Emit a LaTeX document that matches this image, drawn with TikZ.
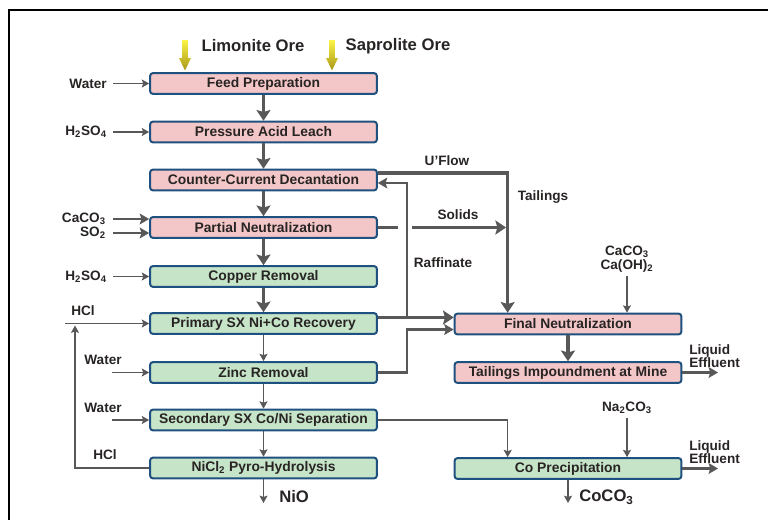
\documentclass[tikz,border=0pt]{standalone}
\usepackage{fontspec}
\setmainfont{Liberation Sans}
\usetikzlibrary{arrows.meta,calc}
\definecolor{boxpink}{RGB}{243,199,199}
\definecolor{boxgreen}{RGB}{198,228,200}
\definecolor{boxedge}{RGB}{30,80,128}
\definecolor{flowgray}{RGB}{88,88,88}
\definecolor{textdark}{RGB}{40,36,36}
\definecolor{oretop}{RGB}{252,244,70}
\definecolor{orebot}{RGB}{168,150,24}
\begin{document}
\begin{tikzpicture}[x=0.75pt,y=-0.75pt,
  stage/.style={draw=boxedge, line width=1.5pt, rounded corners=2pt,
    minimum width=170pt, minimum height=15.5pt, inner sep=0pt,
    font=\fontsize{10.4}{12}\selectfont\bfseries, text=textdark},
  leach/.style={stage, fill=boxpink},
  refine/.style={stage, fill=boxgreen},
  lbl/.style={font=\fontsize{10.2}{11}\selectfont\bfseries, text=textdark, inner sep=0pt},
  biglbl/.style={font=\fontsize{12.5}{14}\selectfont\bfseries, text=textdark, inner sep=0pt},
  heavy/.style={draw=flowgray, line width=2.6pt, -{Stealth[length=8pt,width=10.5pt,inset=1.5pt]}},
  medium/.style={draw=flowgray, line width=1.6pt, -{Stealth[length=7pt,width=8pt,inset=1.2pt]}},
  light/.style={draw=flowgray, line width=1pt, -{Stealth[length=5.5pt,width=6pt,inset=1pt]}},
  orearrow/.style={top color=oretop, bottom color=orebot, draw=none}
]
\useasboundingbox (0,0) rectangle (768,519);

% outer frame
\draw[line width=1.6pt, black] (9,525) -- (9,10) -- (775,10);

% process stages, leach circuit and refining circuit
\node[leach]  (feed) at (263.5,83.5)  {Feed Preparation};
\node[leach]  (pal)  at (263.5,132)   {Pressure Acid Leach};
\node[leach]  (ccd)  at (263.5,180)   {Counter-Current Decantation};
\node[leach]  (pn)   at (263.5,227.5) {Partial Neutralization};
\node[refine] (cu)   at (263.5,276.5) {Copper Removal};
\node[refine] (psx)  at (263.5,323.5) {Primary SX Ni+Co Recovery};
\node[refine] (zn)   at (263.5,372.5) {Zinc Removal};
\node[refine] (ssx)  at (263.5,420)   {Secondary SX Co/Ni Separation};
\node[refine] (pyro) at (263.5,468)   {NiCl\textsubscript{2} Pyro-Hydrolysis};
\node[leach]  (fn)   at (568,324)     {Final Neutralization};
\node[leach]  (tim)  at (568,372.5)   {Tailings Impoundment at Mine};
\node[refine] (cop)  at (568,468.5)   {Co Precipitation};

% ore feeds
\node[biglbl] (limo) at (253,46) {Limonite Ore};
\node[biglbl] (sapro) at (398,46) {Saprolite Ore};
\foreach \ax in {185,332}{
  \shade[orearrow] (\ax-2.8,40) -- (\ax+2.8,40) -- (\ax+2.8,58) -- (\ax+6,58)
     -- (\ax,70.5) -- (\ax-6,58) -- (\ax-2.8,58) -- cycle;
}

% main flow down the leach and refining train
\draw[heavy] (feed.south) -- (pal.north);
\draw[heavy] (pal.south) -- (ccd.north);
\draw[heavy] (ccd.south) -- (pn.north);
\draw[heavy] (pn.south) -- (cu.north);
\draw[heavy] (cu.south) -- (psx.north);
\draw[light] (psx.south) -- (zn.north);
\draw[light] (zn.south) -- (ssx.north);
\draw[light] (ssx.south) -- (pyro.north);
\draw[heavy] (fn.south) -- (tim.north);

% products
\coordinate (nioend) at (263.5,503);
\draw[light] (pyro.south) -- (nioend);
\node[biglbl, anchor=west] (nio) at (279,497) {NiO};
\coordinate (cocoend) at (568,503);
\draw[light] (cop.south) -- (cocoend);
\node[biglbl, anchor=west] (coco) at (579,497) {CoCO\textsubscript{3}};

% reagent inputs on the left
\node[lbl, anchor=east] (water1) at (107,83.5) {Water};
\draw[light] ([xshift=4.5pt]water1.east) -- (water1.east -| feed.west);
\node[lbl, anchor=east] (acid1) at (107,132) {H\textsubscript{2}SO\textsubscript{4}};
\draw[light] ([xshift=4.5pt]acid1.east) -- (acid1.east -| pal.west);
\node[lbl, anchor=east] (caco) at (106,219) {CaCO\textsubscript{3}};
\node[lbl, anchor=east] (so2) at (106,233) {SO\textsubscript{2}};
\draw[medium] ([xshift=5pt]caco.east) -- (caco.east -| pn.west);
\draw[medium] ([xshift=5pt]so2.east) -- (so2.east -| pn.west);
\node[lbl, anchor=east] (acid2) at (107,276.5) {H\textsubscript{2}SO\textsubscript{4}};
\draw[light] ([xshift=4.5pt]acid2.east) -- (acid2.east -| cu.west);

\node[lbl] (hcl1) at (83,311) {HCl};
\coordinate (hclstart) at (65,323.5);
\coordinate (hcljoin) at (75,325.5);
\draw[light] (hclstart) -- (psx.west);
\node[lbl] (hcl2) at (105,455) {HCl};
\draw[light] (pyro.west) -| (hcljoin);

\node[lbl] (water2) at (103,360) {Water};
\coordinate (w2) at (112,372.5);
\draw[light] (w2) -- (zn.west);
\node[lbl] (water3) at (103,408) {Water};
\coordinate (w3) at (112,420);
\draw[light] (w3) -- (ssx.west);

% recycle and tailings routing
\coordinate (tailx) at ($(fn.north west)+(54,0)$);
\coordinate (ccdout) at ($(ccd.east)+(0,-7)$);
\coordinate (ccdin) at ($(ccd.east)+(0,3)$);
\coordinate (psxout) at ($(psx.east)+(0,-6)$);
\coordinate (rafx) at ($(psx.east)+(29,-6)$);
\draw[heavy] (ccdout) -| (tailx);
\node[lbl] (uflow) at (447,161) {U'Flow};
\node[lbl] (tails) at (543,197) {Tailings};

\coordinate (gapL) at ($(pn.east)+(20,0)$);
\coordinate (gapR) at ($(pn.east)+(34,0)$);
\draw[heavy, -] (pn.east) -- (gapL);
\draw[heavy, shorten >=1.2pt] (gapR) -- (gapR -| tailx);
\node[lbl] (solids) at (458,215) {Solids};

\draw[heavy] (psxout) -- (psxout -| fn.west);
\draw[medium] (rafx) |- (ccdin);
\node[lbl] (raff) at (443,263) {Raffinate};

\coordinate (znup) at ($(zn.east)+(29,-43)$);
\draw[medium] (zn.east) -| (znup) -- (znup -| fn.west);

\draw[light] (ssx.east) -| ($(cop.north west)+(54,0)$);

% reagents and effluents on the right
\node[lbl, align=center] (lime) at (627,259) {CaCO\textsubscript{3}\\[-1pt]Ca(OH)\textsubscript{2}};
\draw[light] ([yshift=-3pt]lime.south) -- (lime.south |- fn.north);
\node[lbl] (soda) at (627,408) {Na\textsubscript{2}CO\textsubscript{3}};
\draw[light] ([yshift=-3pt]soda.south) -- (soda.south |- cop.north);

\coordinate (eff1end) at (718,372.5);
\draw[medium] (tim.east) -- (eff1end);
\node[lbl, anchor=south west, align=left, font=\fontsize{10.2}{10}\selectfont\bfseries] (eff1) at (689,368) {Liquid\\Effluent};
\coordinate (eff2end) at (718,468.5);
\draw[medium] (cop.east) -- (eff2end);
\node[lbl, anchor=south west, align=left, font=\fontsize{10.2}{10}\selectfont\bfseries] (eff2) at (689,464) {Liquid\\Effluent};
\end{tikzpicture}
\end{document}
